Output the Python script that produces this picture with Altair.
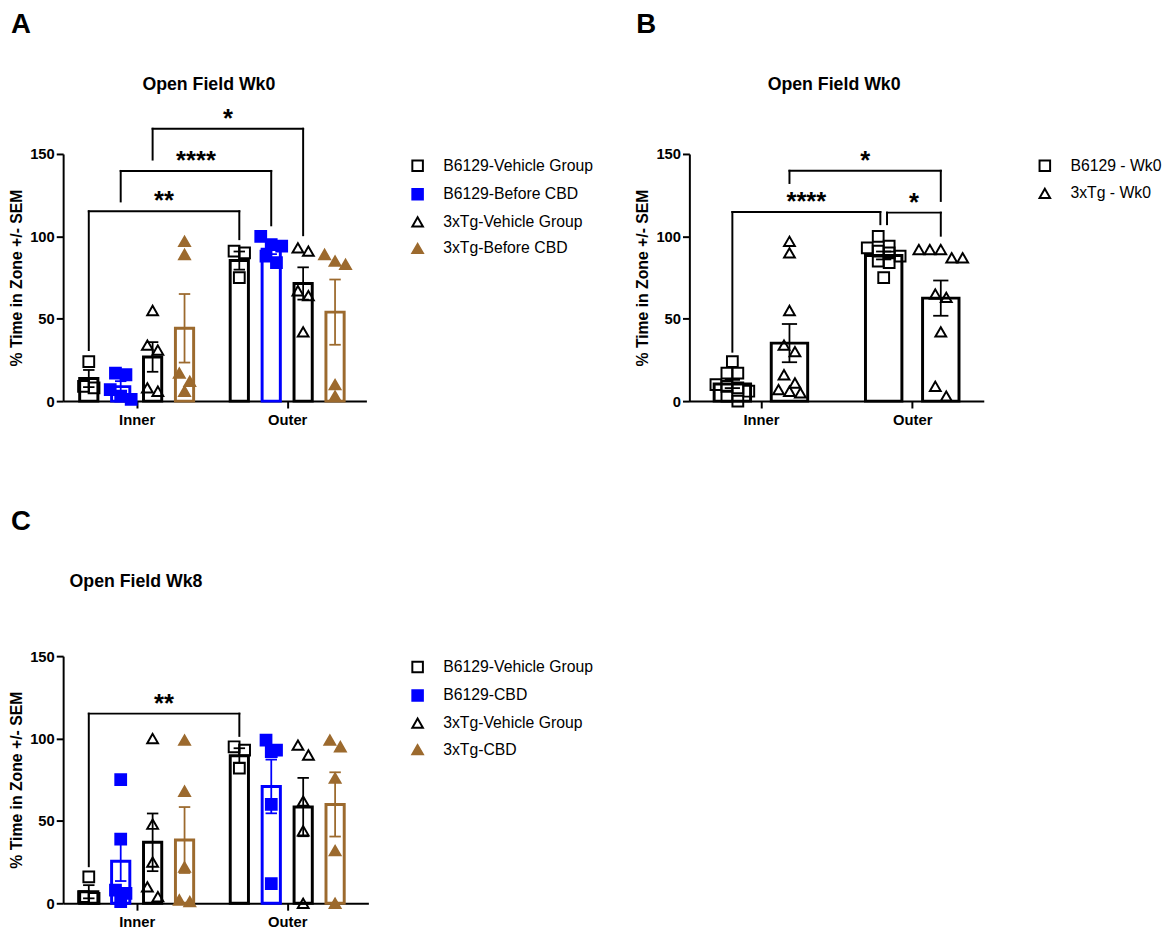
import altair as alt
import pandas as pd

FONT = "Liberation Sans"
BLACK = "#000000"
BLUE = "#0000ff"
BROWN = "#9c6a2e"

GROUPS = ["Inner", "Outer"]
Y_TICKS = [0, 50, 100, 150]
Y_TITLE = "% Time in Zone +/- SEM"

# ---------------- Panel A ----------------
A_SERIES = ["B6129-Vehicle Group", "B6129-Before CBD", "3xTg-Vehicle Group", "3xTg-Before CBD"]
A_INNER_POINTS = [[24, 9, 8], [17, 16, 7, 3, 1], [55, 34, 31, 8, 6], [97, 89, 17, 12, 6]]
A_OUTER_POINTS = [[91, 90, 75], [100, 95, 94, 88, 84], [93, 91, 67, 64, 42], [89, 85, 83, 10, 3]]
A_INNER_MEAN = [13.7, 8.8, 26.8, 44.2]
A_OUTER_MEAN = [85.3, 92.2, 71.4, 54.0]
A_INNER_SEM = [5.2, 3.3, 9.0, 20.8]
A_OUTER_SEM = [5.5, 3.0, 9.8, 19.8]
A_BRACKETS = [
    ("Inner", 0, "Outer", 0, 115.2, 31.0, 98.3, "**"),
    ("Inner", 1, "Outer", 1, 139.7, 121.2, 106.7, "****"),
    ("Inner", 2, "Outer", 2, 165.3, 146.6, 100.7, "*"),
]

# ---------------- Panel B ----------------
B_SERIES = ["B6129 - Wk0", "3xTg - Wk0"]
B_INNER_POINTS = [[24, 17, 17, 10, 9, 8, 6, 3, 0], [97, 90, 55, 34, 30, 16, 11, 7, 6, 5]]
B_OUTER_POINTS = [[100, 94, 93, 91, 90, 88, 85, 84, 75], [92, 92, 92, 87, 87, 65, 63, 42, 9, 3]]
B_INNER_MEAN = [10.4, 35.2]
B_OUTER_MEAN = [88.4, 62.5]
B_INNER_SEM = [2.5, 11.6]
B_OUTER_SEM = [2.4, 10.7]
B_BRACKETS = [
    ("Inner", 0, "Outer", 0, 114.8, 30.0, 107.4, "****"),
    ("Inner", 1, "Outer", 1, 139.8, 132.4, 121.5, "*"),
    ("Outer", 0, "Outer", 1, 114.4, 107.4, 100.4, "*"),
]

# ---------------- Panel C ----------------
C_SERIES = ["B6129-Vehicle Group", "B6129-CBD", "3xTg-Vehicle Group", "3xTg-CBD"]
C_INNER_POINTS = [[16, 4, 3], [75, 39, 8, 6, 1], [100, 48, 25, 10, 4], [99, 68, 22, 2, 1]]
C_OUTER_POINTS = [[95, 93, 82], [99, 93, 92, 60, 12], [96, 90, 62, 44, 0], [99, 95, 76, 32, 0]]
C_INNER_MEAN = [7.0, 25.5, 37.0, 38.4]
C_OUTER_MEAN = [89.6, 70.9, 58.4, 60.0]
C_INNER_SEM = [4.0, 12.0, 17.5, 20.0]
C_OUTER_SEM = [4.5, 16.3, 17.7, 19.5]
C_BRACKETS = [
    ("Inner", 0, "Outer", 0, 115.1, 22.5, 101.6, "**"),
]

# styles (shape, colour, filled)
STYLE4 = [("square", BLACK, False), ("square", BLUE, True),
          ("triangle-up", BLACK, False), ("triangle-up", BROWN, True)]
STYLE2 = [("square", BLACK, False), ("triangle-up", BLACK, False)]

H = 251


def swarm(values, px_per_unit, d):
    order = sorted(range(len(values)), key=lambda i: -values[i])
    rows, cur = [], []
    for i in order:
        if cur and (values[cur[0]] - values[i]) * px_per_unit > d:
            rows.append(cur)
            cur = []
        cur.append(i)
    rows.append(cur)
    offs = [0.0] * len(values)
    for row in rows:
        k = len(row)
        for j, i in enumerate(row):
            offs[i] = (j - (k - 1) / 2) * d
    return offs


def axis_common():
    return dict(labelFont=FONT, labelFontSize=15, labelFontWeight="bold", labelColor="black",
                tickSize=7, tickWidth=2, tickColor="black", domainWidth=2, domainColor="black",
                grid=False)


def panel(series, style, pts, means, sems, brackets, letter, title, cfg):
    W = cfg["W"]
    n = len(series)
    pxu = H / 150.0
    bar_rows, pt_rows, pos = [], [], {}
    for gi, g in enumerate(GROUPS):
        for si, s in enumerate(series):
            xc = cfg["centers"][gi] + (si - (n - 1) / 2) * cfg["slot"]
            pos[(g, si)] = xc
            m, e = means[gi][si], sems[gi][si]
            bar_rows.append(dict(series=s, x=xc, mean=m, lo=m - e, hi=m + e,
                                 cx1=xc - cfg["cap"] / 2, cx2=xc + cfg["cap"] / 2,
                                 col=style[si][1]))
            vals = pts[gi][si]
            offs = swarm(vals, pxu, cfg["d"])
            for v, o in zip(vals, offs):
                pt_rows.append(dict(series=s, px=xc + o, v=v))
    bars_df = pd.DataFrame(bar_rows)
    pts_df = pd.DataFrame(pt_rows)

    lefts = [(b[0], b[1]) for b in brackets]
    rights = [(b[2], b[3]) for b in brackets]
    h_rows, v_rows, s_rows = [], [], []
    nudge = 3.5
    for (g1, s1, g2, s2, y, b1, b2, lab) in brackets:
        x1 = pos[(g1, s1)] + (nudge if (g1, s1) in rights else 0)
        x2 = pos[(g2, s2)] - (nudge if (g2, s2) in lefts else 0)
        h_rows.append(dict(x1=x1, x2=x2, y=y))
        v_rows.append(dict(x=x1, y=y, y2=b1))
        v_rows.append(dict(x=x2, y=y, y2=b2))
        s_rows.append(dict(xm=(x1 + x2) / 2, y=y, label=lab))
    h_df, v_df, s_df = pd.DataFrame(h_rows), pd.DataFrame(v_rows), pd.DataFrame(s_rows)

    c0, c1 = cfg["centers"]
    mid = (c0 + c1) / 2
    xscale = alt.Scale(domain=[0, W], nice=False, zero=False)
    yscale = alt.Scale(domain=[0, 150], nice=False)
    xaxis = alt.Axis(values=[c0, c1], labelExpr=f"datum.value < {mid} ? '{GROUPS[0]}' : '{GROUPS[1]}'",
                     title=None, labelPadding=5, labelFlush=False, labelOverlap=False, **axis_common())
    yaxis = alt.Axis(values=Y_TICKS, title=Y_TITLE, titleFont=FONT, titleFontSize=16,
                     titleFontWeight="bold", titleColor="black", titlePadding=5, labelPadding=2,
                     **axis_common())

    bars = alt.Chart(bars_df).mark_bar(size=cfg["bar"], fill="white", strokeWidth=3).encode(
        x=alt.X("x:Q", scale=xscale, axis=xaxis),
        y=alt.Y("mean:Q", scale=yscale, axis=yaxis),
        stroke=alt.Stroke("col:N", scale=None),
    )
    err = alt.Chart(bars_df).mark_rule(strokeWidth=1.8).encode(
        x=alt.X("x:Q", scale=xscale, axis=xaxis),
        y=alt.Y("lo:Q", scale=yscale, axis=yaxis), y2="hi:Q",
        stroke=alt.Stroke("col:N", scale=None),
    )
    cap_hi = alt.Chart(bars_df).mark_rule(strokeWidth=1.8).encode(
        x=alt.X("cx1:Q", scale=xscale, axis=xaxis), x2="cx2:Q",
        y=alt.Y("hi:Q", scale=yscale, axis=yaxis),
        stroke=alt.Stroke("col:N", scale=None),
    )
    cap_lo = alt.Chart(bars_df).mark_rule(strokeWidth=1.8).encode(
        x=alt.X("cx1:Q", scale=xscale, axis=xaxis), x2="cx2:Q",
        y=alt.Y("lo:Q", scale=yscale, axis=yaxis),
        stroke=alt.Stroke("col:N", scale=None),
    )
    leg = alt.Legend(orient="none", legendX=cfg["legend"][0], legendY=cfg["legend"][1],
                     labelFont=FONT, labelFontSize=16, labelColor="black", symbolSize=115,
                     symbolStrokeWidth=2, rowPadding=9, labelOffset=18, padding=0,
                     symbolOpacity=1)
    points = alt.Chart(pts_df).mark_point(size=120, strokeWidth=2, opacity=1, filled=False).encode(
        x=alt.X("px:Q", scale=xscale, axis=xaxis),
        y=alt.Y("v:Q", scale=yscale, axis=yaxis),
        shape=alt.Shape("series:N", scale=alt.Scale(domain=series, range=[s[0] for s in style]),
                        legend=leg, title=None),
        color=alt.Color("series:N", scale=alt.Scale(domain=series, range=[s[1] for s in style]),
                        legend=leg, title=None),
        fill=alt.Fill("series:N", scale=alt.Scale(domain=series,
                                                  range=[s[1] if s[2] else "transparent" for s in style]),
                      legend=leg, title=None),
    )
    hbr = alt.Chart(h_df).mark_rule(strokeWidth=2, color="black", strokeCap="square").encode(
        x=alt.X("x1:Q", scale=xscale, axis=xaxis), x2="x2:Q",
        y=alt.Y("y:Q", scale=yscale, axis=yaxis),
    )
    vbr = alt.Chart(v_df).mark_rule(strokeWidth=2, color="black", strokeCap="square").encode(
        x=alt.X("x:Q", scale=xscale, axis=xaxis),
        y=alt.Y("y:Q", scale=yscale, axis=yaxis), y2="y2:Q",
    )
    stars = alt.Chart(s_df).mark_text(font=FONT, fontSize=26, fontWeight="bold", baseline="alphabetic",
                                      align="center", dy=-2, color="black").encode(
        x=alt.X("xm:Q", scale=xscale, axis=xaxis),
        y=alt.Y("y:Q", scale=yscale, axis=yaxis),
        text="label:N",
    )
    ttl = alt.Chart(pd.DataFrame({"t": [title]})).mark_text(
        font=FONT, fontSize=18, fontWeight="bold", align="center", baseline="alphabetic", color="black"
    ).encode(text="t:N", x=alt.value(cfg["title"][0]), y=alt.value(cfg["title"][1]))
    let = alt.Chart(pd.DataFrame({"t": [letter]})).mark_text(
        font=FONT, fontSize=28, fontWeight="bold", align="left", baseline="alphabetic", color="black"
    ).encode(text="t:N", x=alt.value(cfg["letter"][0]), y=alt.value(cfg["letter"][1]))

    return alt.layer(bars, err, cap_hi, cap_lo, points, hbr, vbr, stars, ttl, let).properties(
        width=W, height=H)


cfgA = dict(W=308, centers=[72, 230], slot=33.5, bar=18.5, cap=12, d=11,
            legend=(352, 4), title=(148, -65), letter=(-53, -123))
cfgB = dict(W=299, centers=[70, 229], slot=60, bar=37, cap=16, d=11.5,
            legend=(353, 4), title=(147, -65), letter=(-54, -123))
cfgC = dict(W=310, centers=[72, 230], slot=33.5, bar=18.5, cap=12, d=11,
            legend=(352, 3), title=(74, -70), letter=(-53, -128))

pA = panel(A_SERIES, STYLE4, [A_INNER_POINTS, A_OUTER_POINTS], [A_INNER_MEAN, A_OUTER_MEAN],
           [A_INNER_SEM, A_OUTER_SEM], A_BRACKETS, "A", "Open Field Wk0", cfgA)
pB = panel(B_SERIES, STYLE2, [B_INNER_POINTS, B_OUTER_POINTS], [B_INNER_MEAN, B_OUTER_MEAN],
           [B_INNER_SEM, B_OUTER_SEM], B_BRACKETS, "B", "Open Field Wk0", cfgB)
pC = panel(C_SERIES, STYLE4, [C_INNER_POINTS, C_OUTER_POINTS], [C_INNER_MEAN, C_OUTER_MEAN],
           [C_INNER_SEM, C_OUTER_SEM], C_BRACKETS, "C", "Open Field Wk8", cfgC)

RES = dict(shape="independent", color="independent", fill="independent", stroke="independent")
top = alt.hconcat(pA, pB, spacing=328, bounds="flush").resolve_scale(**RES)
chart = alt.vconcat(top, pC, spacing=H + 259, bounds="flush").resolve_scale(**RES).properties(
    padding={"left": 0, "top": -4, "right": 0, "bottom": 0}).configure_view(stroke=None)

chart.save("out.html", embed_options={"renderer": "svg", "actions": False})
